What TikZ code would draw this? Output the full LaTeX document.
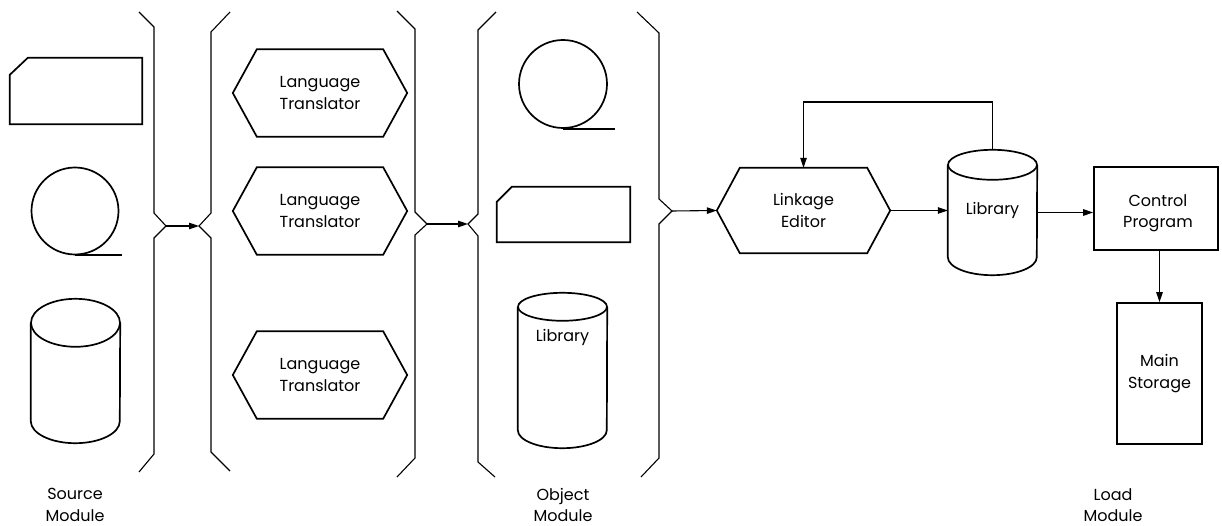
\documentclass[tikz,border=0pt]{standalone}
\usepackage{fontspec}
\setmainfont{Poppins}
\usetikzlibrary{arrows.meta,calc}

% outline helpers: hexagon, cylinder and punched card around a named node
\newcommand\hexoutline[2][24]{%
  \draw[shp] (#2.west) -- ([xshift=#1pt]#2.north west) -- ([xshift=-#1pt]#2.north east)
    -- (#2.east) -- ([xshift=-#1pt]#2.south east) -- ([xshift=#1pt]#2.south west) -- cycle;}
% #1 node, #2 x radius, #3 top y radius, #4 bottom y radius
\newcommand\cyloutline[4]{%
  \draw[shp] ([yshift=-#3pt]#1.north west) -- ([yshift=#4pt]#1.south west)
    arc[start angle=180,end angle=360,x radius=#2pt,y radius=#4pt]
    -- ([yshift=-#3pt]#1.north east);
  \draw[shp] ([yshift=-#3pt]#1.north) ellipse[x radius=#2pt,y radius=#3pt];}
% #1 node, #2 corner cut (horizontal), #3 corner cut (vertical)
\newcommand\cardoutline[3]{%
  \draw[shp] ([yshift=-#3pt]#1.north west) -- ([xshift=#2pt]#1.north west)
    -- (#1.north east) -- (#1.south east) -- (#1.south west) -- cycle;}

\begin{document}
\begin{tikzpicture}[x=1pt,y=-1pt,
  shp/.style={line width=1.7pt,line join=miter},
  brc/.style={line width=1.1pt},
  con/.style={line width=1.1pt,-{Triangle[length=10pt,width=6.5pt]}},
  txt/.style={font=\fontsize{16}{21.5}\selectfont,align=center,inner sep=0pt},
  hex/.style={txt,minimum width=174pt,minimum height=87pt},
  tape/.style={shp,draw,circle,minimum size=#1,inner sep=0pt}
]
\useasboundingbox (0,0) rectangle (1222,526);

% ---- source module ----
\node[minimum width=132pt,minimum height=66pt,inner sep=0pt] (scard) at (76,91) {};
\cardoutline{scard}{18}{17}
\node[tape=87pt] (stape) at (75,211) {};
\draw[shp] (stape.south) -- ++(47,0);
\node[minimum width=89pt,minimum height=144pt,inner sep=0pt] (scyl) at (75.5,371) {};
\cyloutline{scyl}{44.5}{24}{22}
\node[txt] (srclbl) at (75,505) {Source\\Module};

% ---- braces ----
\draw[brc] (139,12) -- (154,27) -- (154,213) -- (166,226) coordinate (b1) -- (154,238) -- (154,454) -- (139,472);
\draw[brc] (230,12) -- (211,32) -- (211,213) -- (199,226) coordinate (b2) -- (211,238) -- (211,452) -- (230,471);
\draw[brc] (397,11) -- (415,29) -- (415,212) -- (427,224) coordinate (b3) -- (415,235) -- (415,458) -- (397,477);
\draw[brc] (496,12) -- (478,30) -- (478,214) -- (468,224) coordinate (b4) -- (478,236) -- (478,462) -- (495,477);
\draw[brc] (637,12) -- (659,33) -- (659,199) -- (672,211) coordinate (b5) -- (659,224) -- (659,458) -- (641,477);
\draw[con] (b1) -- (b2);
\draw[con] (b3) -- (b4);

% ---- language translators ----
\node[hex] (lt1) at (320,93) {Language\\Translator};
\hexoutline{lt1}
\node[hex] (lt2) at (320,211) {Language\\Translator};
\hexoutline{lt2}
\node[hex] (lt3) at (320,375) {Language\\Translator};
\hexoutline{lt3}

% ---- object module ----
\node[tape=88pt] (otape) at (563,84) {};
\draw[shp] (otape.south) -- ++(52,0);
\node[minimum width=133pt,minimum height=55pt,inner sep=0pt] (ocard) at (563.5,214.5) {};
\cardoutline{ocard}{15}{15}
\node[minimum width=89pt,minimum height=155pt,inner sep=0pt] (ocyl) at (562.5,370.5) {};
\cyloutline{ocyl}{44.5}{14}{18}
\node[txt] (olibtxt) at (562.5,337) {Library};
\node[txt] (objlbl) at (563,505) {Object\\Module};

% ---- load module ----
\node[hex,minimum width=173pt,minimum height=85pt] (le) at (803.5,210.5) {Linkage\\Editor};
\hexoutline[23]{le}
\draw[con] (b5) -- (le.west);
\node[minimum width=89pt,minimum height=125pt,inner sep=0pt] (lib) at (992.5,212.5) {};
\cyloutline{lib}{44.5}{15}{18}
\node[txt] (libtxt) at (992.5,210) {Library};
\coordinate (fb) at (803.5,102);
\draw[con] (lib.north) |- (fb) -- (le.north);
\draw[con] (le.east) -- (le.east -| lib.west);
\node[draw,shp,minimum width=124pt,minimum height=83pt,inner sep=0pt] (cp) at (1156,208.5) {};
\node[txt] (cptxt) at (1158,213) {Control\\Program};
\draw[con] (lib.east) -- (lib.east -| cp.west);
\node[txt,draw,shp,minimum width=85pt,minimum height=141pt] (ms) at (1159.5,373.5) {Main\\Storage};
\draw[con] (ms.north |- cp.south) -- (ms.north);
\node[txt] (loadlbl) at (1113,505) {Load\\Module};
\end{tikzpicture}
\end{document}
